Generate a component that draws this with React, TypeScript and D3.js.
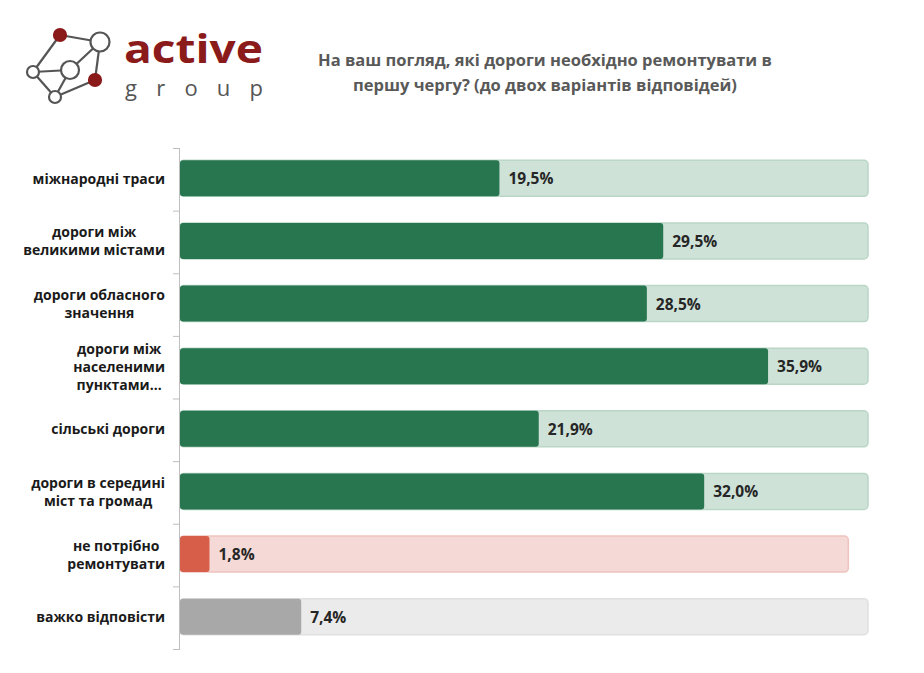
import React, { useEffect, useRef } from "react";
import * as d3 from "d3";

const categories = [
  ["міжнародні траси"],
  ["дороги між", "великими містами"],
  ["дороги обласного", "значення"],
  ["дороги між", "населеними", "пунктами…"],
  ["сільські дороги"],
  ["дороги в середині", "міст та громад"],
  ["не потрібно", "ремонтувати"],
  ["важко відповісти"],
];
const values = [19.5, 29.5, 28.5, 35.9, 21.9, 32.0, 1.8, 7.4];
const backValues = [42, 42, 42, 42, 42, 42, 40.8, 42];
const groups = ["yes", "yes", "yes", "yes", "yes", "yes", "no", "dk"];
const titleLines = [
  "На ваш погляд, які дороги необхідно ремонтувати в",
  "першу чергу? (до двох варіантів відповідей)",
];

const palette: Record<string, { bar: string; bg: string; edge: string }> = {
  yes: { bar: "#277650", bg: "#cfe2d8", edge: "#b9d6c6" },
  no: { bar: "#d75f4a", bg: "#f5d9d6", edge: "#efc3be" },
  dk: { bar: "#a8a8a8", bg: "#ebebeb", edge: "#e0e0e0" },
};

const W = 924;
const H = 673;
const FONT = "'Open Sans', sans-serif";

const App = () => {
  const ref = useRef<SVGSVGElement>(null);

  useEffect(() => {
    const svg = d3.select(ref.current);
    svg.selectAll("*").remove();

    const x = d3.scaleLinear().domain([0, 42]).range([180, 868]);
    const y = d3
      .scaleBand<number>()
      .domain(d3.range(categories.length))
      .range([148, 649]);
    const barH = 36;

    // logo
    const logo = svg.append("g");
    const nodes = [
      { x: 60, y: 35, r: 6, red: true },
      { x: 100, y: 42, r: 9.5, red: false },
      { x: 33, y: 72, r: 6, red: false },
      { x: 70, y: 70, r: 9, red: false },
      { x: 95, y: 80, r: 6, red: true },
      { x: 55, y: 97, r: 6, red: false },
    ];
    const edges = [
      [0, 1], [0, 2], [2, 3], [3, 1], [1, 4], [3, 5], [2, 5], [5, 4],
    ];
    edges.forEach(([a, b]) => {
      logo.append("line")
        .attr("x1", nodes[a].x).attr("y1", nodes[a].y)
        .attr("x2", nodes[b].x).attr("y2", nodes[b].y)
        .attr("stroke", "#555").attr("stroke-width", 2.2);
    });
    nodes.forEach((n) => {
      logo.append("circle")
        .attr("cx", n.x).attr("cy", n.y).attr("r", n.r)
        .attr("fill", n.red ? "#8b1a1a" : "#fff")
        .attr("stroke", n.red ? "#8b1a1a" : "#555")
        .attr("stroke-width", 2.2);
    });
    logo.append("text")
      .attr("x", 124).attr("y", 63)
      .attr("font-family", FONT).attr("font-weight", 700)
      .attr("font-size", 40).attr("fill", "#8b1a1a")
      .attr("textLength", 139).attr("lengthAdjust", "spacingAndGlyphs")
      .text("active");
    logo.append("text")
      .attr("x", 125).attr("y", 96)
      .attr("font-family", FONT).attr("font-weight", 400)
      .attr("font-size", 22).attr("fill", "#555")
      .attr("textLength", 138).attr("lengthAdjust", "spacing")
      .text("group");

    // title
    svg.append("g").selectAll("text").data(titleLines).join("text")
      .attr("x", 545).attr("y", (_, i) => 66 + i * 25)
      .attr("text-anchor", "middle")
      .attr("font-family", FONT).attr("font-weight", 700)
      .attr("font-size", 16.5).attr("fill", "#595959")
      .text((d) => d);

    // background bars
    svg.append("g").selectAll("rect").data(backValues).join("rect")
      .attr("x", x(0))
      .attr("y", (_, i) => y(i)! + y.bandwidth() / 2 - barH / 2 - 1)
      .attr("width", (d) => x(d) - x(0))
      .attr("height", barH)
      .attr("rx", 4)
      .attr("fill", (_, i) => palette[groups[i]].bg)
      .attr("stroke", (_, i) => palette[groups[i]].edge)
      .attr("stroke-width", 1.5);

    // value bars
    svg.append("g").selectAll("rect").data(values).join("rect")
      .attr("x", x(0))
      .attr("y", (_, i) => y(i)! + y.bandwidth() / 2 - barH / 2 - 1)
      .attr("width", (d) => x(d) - x(0))
      .attr("height", barH)
      .attr("rx", 3)
      .attr("fill", (_, i) => palette[groups[i]].bar);

    // value labels
    svg.append("g").selectAll("text").data(values).join("text")
      .attr("x", (d) => x(d) + 9)
      .attr("y", (_, i) => y(i)! + y.bandwidth() / 2 + 5)
      .attr("font-family", FONT).attr("font-weight", 700)
      .attr("font-size", 15.5).attr("fill", "#262626")
      .text((d) => d.toFixed(1).replace(".", ",") + "%");

    // axis
    const axis = svg.append("g");
    axis.append("line")
      .attr("x1", 179.5).attr("x2", 179.5)
      .attr("y1", 148).attr("y2", 649)
      .attr("stroke", "#bfbfbf").attr("stroke-width", 1);
    axis.selectAll("line.tick")
      .data(d3.range(categories.length + 1))
      .join("line")
      .attr("class", "tick")
      .attr("x1", 173).attr("x2", 180)
      .attr("y1", (i) => 148 + i * y.step() + 0.5)
      .attr("y2", (i) => 148 + i * y.step() + 0.5)
      .attr("stroke", "#bfbfbf");

    // category labels: centered lines inside right-aligned block
    const lineH = 18;
    categories.forEach((lines, i) => {
      const g = svg.append("g");
      const cy = y(i)! + y.bandwidth() / 2;
      const ts = g.selectAll("text").data(lines).join("text")
        .attr("y", (_, j) => cy + (j - (lines.length - 1) / 2) * lineH + 4.5)
        .attr("text-anchor", "middle")
        .attr("font-family", FONT).attr("font-weight", 700)
        .attr("font-size", 14).attr("fill", "#1a1a1a")
        .text((d) => d);
      let maxW = 0;
      ts.each(function () {
        maxW = Math.max(maxW, (this as SVGTextElement).getComputedTextLength());
      });
      ts.attr("x", 165 - maxW / 2);
    });
  }, []);

  return (
    <svg
      ref={ref}
      width={W}
      height={H}
      style={{ position: "fixed", left: 0, top: 0, background: "#fff" }}
    />
  );
};

export default App;
